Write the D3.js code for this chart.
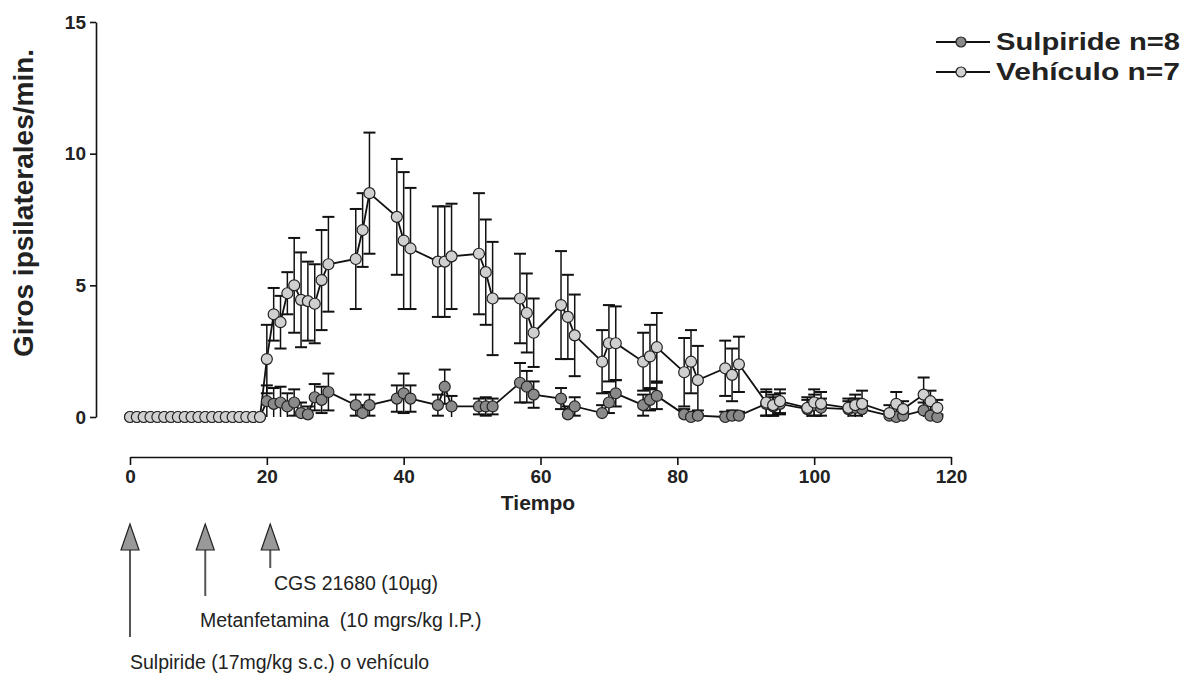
<!DOCTYPE html>
<html>
<head>
<meta charset="utf-8">
<script src="https://cdn.jsdelivr.net/npm/d3@7"></script>
<style>
  body { margin: 0; background: #fff; }
  svg { display: block; }
  .axis path, .axis line { stroke: #111; stroke-width: 1.6; }
  .axis text { font-family: "Liberation Sans", Arial, sans-serif; font-weight: bold; font-size: 19px; fill: #222; }
  .note { font-family: "Liberation Sans", Arial, sans-serif; font-size: 19.5px; fill: #222; white-space: pre; }
</style>
</head>
<body>
<svg width="1186" height="682"></svg>
<script>
// time (min) of each measurement
const times = [0,1,2,3,4,5,6,7,8,9,10,11,12,13,14,15,16,17,18,19,
  20,21,22,23,24,25,26,27,28,29,
  33,34,35, 39,40,41, 45,46,47, 51,52,53, 57,58,59, 63,64,65,
  69,70,71, 75,76,77, 81,82,83, 87,88,89, 93,94,95, 99,100,101,
  105,106,107, 111,112,113, 116,117,118];

// Vehiculo n=7 (mean, sem)
const vehMean = [0,0,0,0,0,0,0,0,0,0,0,0,0,0,0,0,0,0,0,0,
  2.2,3.9,3.6,4.7,5.0,4.45,4.4,4.3,5.2,5.8,
  6.0,7.1,8.5, 7.6,6.7,6.4, 5.9,5.9,6.1, 6.2,5.5,4.5, 4.5,3.95,3.2, 4.25,3.8,3.1,
  2.1,2.8,2.8, 2.1,2.3,2.65, 1.7,2.1,1.4, 1.85,1.6,2.0, 0.55,0.45,0.6, 0.35,0.55,0.5,
  0.35,0.45,0.5, 0.15,0.5,0.3, 0.85,0.6,0.35];
const vehErr = [0,0,0,0,0,0,0,0,0,0,0,0,0,0,0,0,0,0,0,0,
  1.3,1.0,1.0,0.8,1.8,1.8,1.5,1.5,1.9,1.8,
  1.9,1.4,2.3, 2.2,2.6,2.3, 2.1,2.1,2.0, 2.3,2.0,2.15, 1.7,1.5,1.3, 2.05,1.6,1.55,
  1.2,1.45,1.4, 1.1,1.2,1.3, 1.3,1.2,1.3, 1.05,1.0,1.05, 0.5,0.4,0.45, 0.4,0.5,0.45,
  0.35,0.4,0.5, 0.3,0.45,0.3, 0.65,0.4,0.3];

// Sulpiride n=8 (mean, sem)
const sulMean = [0,0,0,0,0,0,0,0,0,0,0,0,0,0,0,0,0,0,0,0,
  0.6,0.5,0.55,0.4,0.55,0.15,0.1,0.75,0.65,0.95,
  0.45,0.15,0.45, 0.7,0.9,0.7, 0.45,1.15,0.4, 0.4,0.4,0.4, 1.3,1.15,0.85, 0.7,0.1,0.4,
  0.15,0.55,0.9, 0.45,0.65,0.8, 0.1,0.0,0.05, 0.0,0.05,0.05, 0.5,0.4,0.5, 0.3,0.45,0.35,
  0.3,0.35,0.3, 0.05,0.0,0.05, 0.25,0.05,0.0];
const sulErr = [0,0,0,0,0,0,0,0,0,0,0,0,0,0,0,0,0,0,0,0,
  0.6,0.6,0.6,0.5,0.5,0.4,0.3,0.5,0.5,0.7,
  0.4,0.3,0.4, 0.5,0.75,0.5, 0.4,0.65,0.4, 0.3,0.35,0.3, 0.75,0.6,0.5, 0.4,0.3,0.35,
  0.3,0.4,0.5, 0.4,0.4,0.5, 0.2,0.2,0.2, 0.2,0.2,0.15, 0.45,0.35,0.4, 0.35,0.4,0.35,
  0.3,0.35,0.3, 0.15,0.1,0.15, 0.3,0.2,0.1];

const xTicks = [0,20,40,60,80,100,120];
const yTicks = [0,5,10,15];

// injections: time and label
const events = [
  {t: 0, label: "Sulpiride (17mg/kg s.c.) o vehículo"},
  {t: 11, label: "Metanfetamina  (10 mgrs/kg I.P.)"},
  {t: 20.5, label: "CGS 21680 (10µg)"}
];

const svg = d3.select('svg');
const x = d3.scaleLinear().domain([0, 120]).range([130, 951]);
const y = d3.scaleLinear().domain([0, 15]).range([417, 22]);

// axes, offset like the original
svg.append('g').attr('class', 'axis')
  .attr('transform', 'translate(96,0)')
  .call(d3.axisLeft(y).tickValues(yTicks).tickSize(6).tickPadding(4).tickSizeOuter(0));
svg.append('g').attr('class', 'axis')
  .attr('transform', 'translate(0,457)')
  .call(d3.axisBottom(x).tickValues(xTicks).tickSize(8).tickPadding(5).tickSizeOuter(0));

svg.append('text')
  .attr('transform', 'translate(33,203) rotate(-90)')
  .attr('text-anchor', 'middle')
  .style('font-family', '"Liberation Sans", Arial, sans-serif')
  .style('font-weight', 'bold').style('font-size', '28px').style('fill', '#222')
  .text('Giros ipsilaterales/min.');
svg.append('text')
  .attr('x', 538).attr('y', 510)
  .attr('text-anchor', 'middle')
  .style('font-family', '"Liberation Sans", Arial, sans-serif')
  .style('font-weight', 'bold').style('font-size', '21px').style('fill', '#222')
  .text('Tiempo');

const series = [
  {name: 'Sulpiride n=8', mean: sulMean, err: sulErr, fill: '#8a8a8a'},
  {name: 'Vehículo n=7', mean: vehMean, err: vehErr, fill: '#d0d0d0'}
];

const plot = svg.append('g');
series.forEach(s => {
  const pts = times.map((t, i) => ({t: t, m: s.mean[i], e: s.err[i]}));
  const eb = pts.filter(d => d.e > 0);
  // error bars
  plot.selectAll(null).data(eb).enter().append('line')
    .attr('x1', d => x(d.t)).attr('x2', d => x(d.t))
    .attr('y1', d => y(d.m + d.e)).attr('y2', d => y(Math.max(0, d.m - d.e)))
    .attr('stroke', '#111').attr('stroke-width', 1.5);
  plot.selectAll(null).data(eb).enter().append('line')
    .attr('x1', d => x(d.t) - 6).attr('x2', d => x(d.t) + 6)
    .attr('y1', d => y(d.m + d.e)).attr('y2', d => y(d.m + d.e))
    .attr('stroke', '#111').attr('stroke-width', 2);
  plot.selectAll(null).data(eb.filter(d => d.m - d.e > 0)).enter().append('line')
    .attr('x1', d => x(d.t) - 6).attr('x2', d => x(d.t) + 6)
    .attr('y1', d => y(d.m - d.e)).attr('y2', d => y(d.m - d.e))
    .attr('stroke', '#111').attr('stroke-width', 2);
  s.pts = pts;
});
series.forEach(s => {
  plot.append('path')
    .datum(s.pts)
    .attr('fill', 'none').attr('stroke', '#111').attr('stroke-width', 1.8)
    .attr('d', d3.line().x(d => x(d.t)).y(d => y(d.m)));
});
series.forEach(s => {
  plot.selectAll(null).data(s.pts).enter().append('circle')
    .attr('cx', d => x(d.t)).attr('cy', d => y(d.m)).attr('r', 5.5)
    .attr('fill', s.fill).attr('stroke', '#222').attr('stroke-width', 1.2);
});

// legend
const leg = svg.append('g');
series.forEach((s, i) => {
  const ly = 42 + i * 30;
  leg.append('line').attr('x1', 936).attr('x2', 990).attr('y1', ly).attr('y2', ly)
    .attr('stroke', '#111').attr('stroke-width', 1.8);
  leg.append('circle').attr('cx', 961).attr('cy', ly).attr('r', 5)
    .attr('fill', s.fill).attr('stroke', '#222').attr('stroke-width', 1.2);
  leg.append('text').attr('x', 996).attr('y', ly + 8)
    .attr('textLength', 184).attr('lengthAdjust', 'spacingAndGlyphs')
    .style('font-family', '"Liberation Sans", Arial, sans-serif')
    .style('font-weight', 'bold').style('font-size', '23px').style('fill', '#222')
    .text(s.name);
});

// injection arrows and notes
const arrowBottom = [637, 596, 568];
const noteY = [669, 627, 590];
const noteX = [130, 200, 274];
events.forEach((ev, i) => {
  const ax = x(ev.t);
  svg.append('line').attr('x1', ax).attr('x2', ax).attr('y1', 548).attr('y2', arrowBottom[i])
    .attr('stroke', '#555').attr('stroke-width', 2);
  svg.append('path')
    .attr('d', `M${ax},${524} L${ax - 9},${550} L${ax + 9},${550} Z`)
    .attr('fill', '#999').attr('stroke', '#222').attr('stroke-width', 1.2);
  svg.append('text').attr('class', 'note')
    .attr('x', noteX[i]).attr('y', noteY[i])
    .attr('xml:space', 'preserve')
    .text(ev.label);
});
</script>
</body>
</html>
